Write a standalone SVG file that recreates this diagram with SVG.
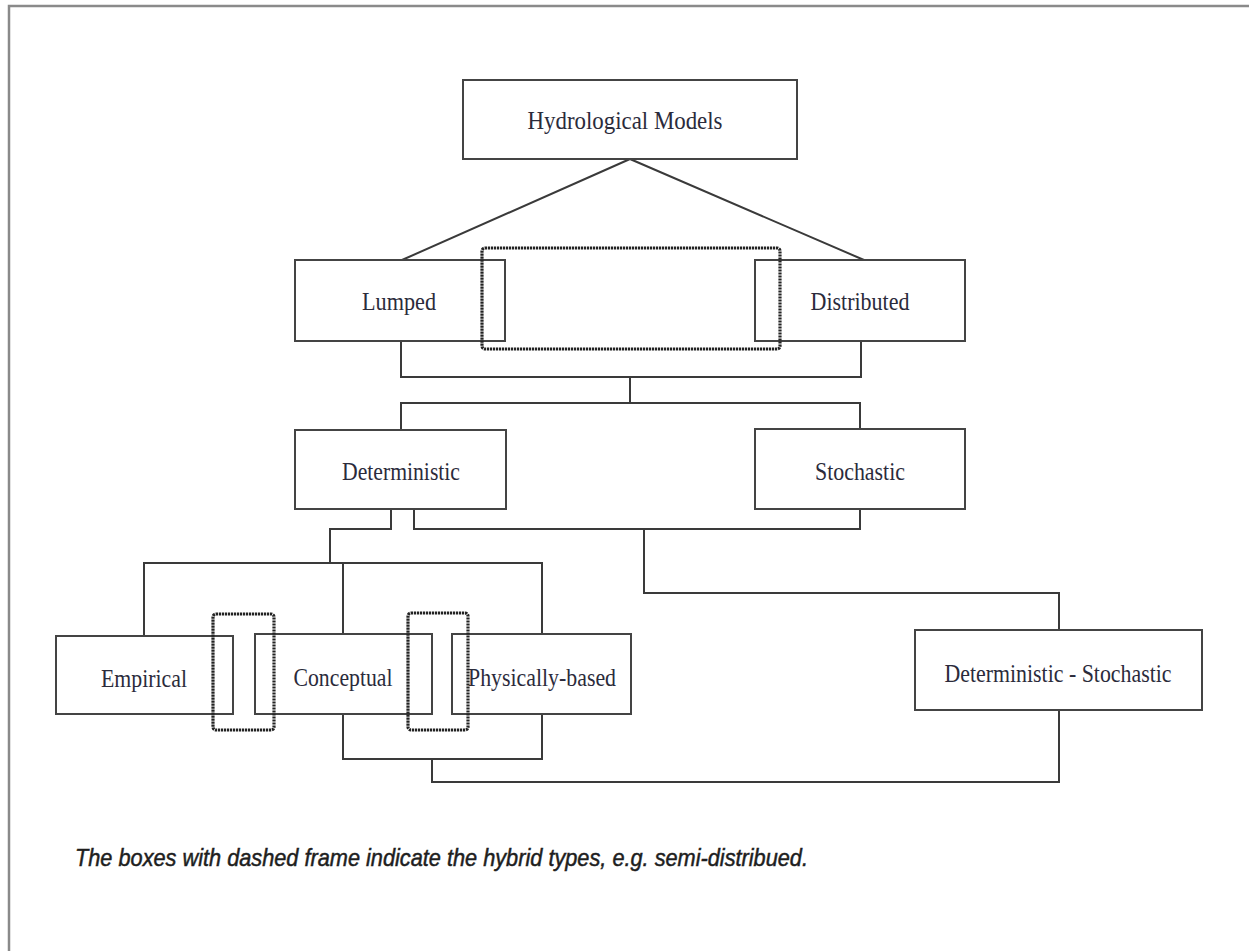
<svg xmlns="http://www.w3.org/2000/svg" width="1249" height="951" viewBox="0 0 1249 951">
<style>
.frame{fill:none;stroke:#8a8a8a;stroke-width:2.5}
.box{fill:none;stroke:#444;stroke-width:2}
.hyb{fill:none;stroke:#222;stroke-width:3.2;stroke-dasharray:2.2 0.8}
.con{fill:none;stroke:#3a3a3a;stroke-width:2}
.lbl{font-family:"Liberation Serif","Times New Roman",serif;font-size:25px;fill:#2b2b3b;text-anchor:middle}
.cap{font-family:"Liberation Sans",Arial,sans-serif;font-style:italic;font-size:24px;fill:#1e1e1e;stroke:#1e1e1e;stroke-width:0.5}
</style>
<rect x="0" y="0" width="1249" height="951" fill="#fff"/>
<rect class="frame" x="9" y="6" width="1300" height="1000"/>
<g id="connectors">
<path class="con" d="M630,159 L402,260 M630,159 L864,260"/>
<path class="con" d="M401,341 V377 H861 V341 M630,377 V403 M401,430 V403 H860 V429"/>
<path class="con" d="M391,509 V529 H330 V563 M144,636 V563 H542 V634 M343,563 V634"/>
<path class="con" d="M414,509 V529 H860 V509 M644,529 V593 H1059 V630"/>
<path class="con" d="M343,714 V759 H542 V714 M432,759 V782 H1059 V710"/>
</g>
<g id="hydrological-models"><rect class="box" x="463" y="80" width="334" height="79"/><text class="lbl" x="625" y="129" textLength="195" lengthAdjust="spacingAndGlyphs">Hydrological Models</text></g>
<g id="lumped"><rect class="box" x="295" y="260" width="210" height="81"/><text class="lbl" x="399" y="310" textLength="74" lengthAdjust="spacingAndGlyphs">Lumped</text></g>
<g id="distributed"><rect class="box" x="755" y="260" width="210" height="81"/><text class="lbl" x="860" y="310" textLength="99" lengthAdjust="spacingAndGlyphs">Distributed</text></g>
<g id="hybrid-lumped-distributed"><rect class="hyb" x="482" y="248" width="298" height="101" rx="3"/></g>
<g id="deterministic"><rect class="box" x="295" y="430" width="211" height="79"/><text class="lbl" x="401" y="480" textLength="118" lengthAdjust="spacingAndGlyphs">Deterministic</text></g>
<g id="stochastic"><rect class="box" x="755" y="429" width="210" height="80"/><text class="lbl" x="860" y="480" textLength="90" lengthAdjust="spacingAndGlyphs">Stochastic</text></g>
<g id="empirical"><rect class="box" x="56" y="636" width="177" height="78"/><text class="lbl" x="144" y="687" textLength="86" lengthAdjust="spacingAndGlyphs">Empirical</text></g>
<g id="conceptual"><rect class="box" x="255" y="634" width="177" height="80"/><text class="lbl" x="343" y="686" textLength="99" lengthAdjust="spacingAndGlyphs">Conceptual</text></g>
<g id="physically-based"><rect class="box" x="452" y="634" width="179" height="80"/><text class="lbl" x="542" y="686" textLength="148" lengthAdjust="spacingAndGlyphs">Physically-based</text></g>
<g id="hybrid-empirical-conceptual"><rect class="hyb" x="213" y="614" width="61" height="116" rx="3"/></g>
<g id="hybrid-conceptual-physical"><rect class="hyb" x="408" y="613" width="60" height="117" rx="3"/></g>
<g id="deterministic-stochastic"><rect class="box" x="915" y="630" width="287" height="80"/><text class="lbl" x="1058" y="682" textLength="227" lengthAdjust="spacingAndGlyphs">Deterministic - Stochastic</text></g>
<g id="caption"><text class="cap" x="75" y="866" textLength="733" lengthAdjust="spacingAndGlyphs">The boxes with dashed frame indicate the hybrid types, e.g. semi-distribued.</text></g>
</svg>
